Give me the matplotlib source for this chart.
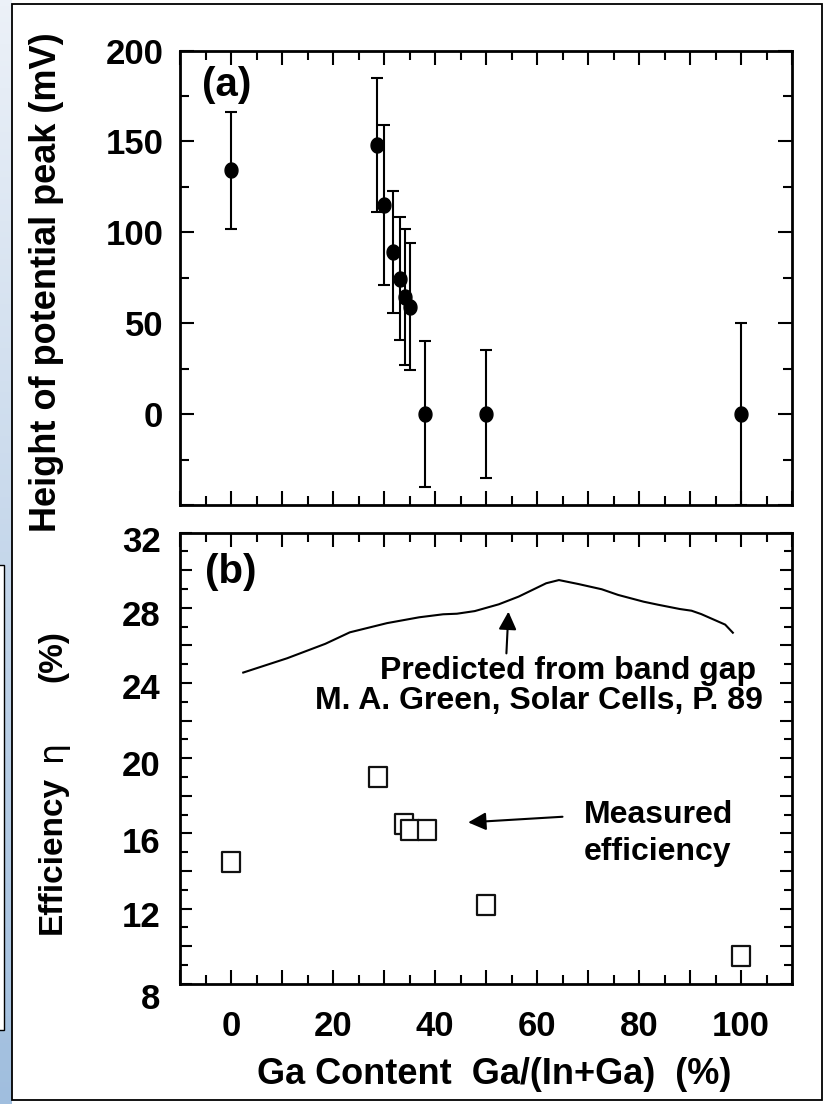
import numpy as np
import matplotlib
matplotlib.use('Agg')
import matplotlib.pyplot as plt
from matplotlib.path import Path
from matplotlib.ticker import MultipleLocator, FuncFormatter
from matplotlib.patches import Rectangle
from matplotlib.transforms import ScaledTranslation

# ---------------- data ----------------
ga_peak = [0, 28.6, 30.0, 31.7, 33.1, 34.1, 35.1, 38.1, 50, 100]
peak_mv = [134, 148, 115, 89, 74.5, 64.5, 59, 0, 0, 0]
peak_err = [32, 37, 44, 33.5, 34, 37.5, 35, 40, 35, 50]

ga_eff = [0, 28.8, 34.0, 35.1, 38.4, 50, 100]
eff_meas = [14.5, 19.0, 16.5, 16.2, 16.2, 12.2, 9.5]

ga_pred = [2.4, 11.0, 18.5, 23.3, 30.6, 36.9, 41.6, 44.3, 47.8, 52.5, 56.4,
           61.8, 64.3, 68.1, 72.7, 75.9, 80.9, 83.7, 88.0, 90.3, 92.2, 96.9, 98.4]
eff_pred = [24.55, 25.31, 26.08, 26.69, 27.18, 27.49, 27.65, 27.68, 27.82, 28.18, 28.59,
            29.30, 29.47, 29.26, 28.98, 28.68, 28.32, 28.16, 27.93, 27.84, 27.66, 27.10, 26.67]

xlabel_text = "Ga Content  Ga/(In+Ga)  (%)"
ylabel_top = "Height of potential peak (mV)"
# --------------------------------------

plt.rcParams['font.family'] = ['Liberation Sans', 'DejaVu Sans']
plt.rcParams['font.weight'] = 'bold'

W, H = 827, 1104
fig = plt.figure(figsize=(W / 100, H / 100), dpi=100)


def fx(x):
    return x / W


def fy(y):
    return 1 - y / H


# background strip on the left (slide background)
gax = fig.add_axes([0, 0, 12 / W, 1])
top_c = np.array([236, 241, 248]) / 255
bot_c = np.array([160, 190, 222]) / 255
t = np.linspace(0, 1, 200)[:, None, None]
grad = top_c[None, None, :] * (1 - t) + bot_c[None, None, :] * t
gax.imshow(grad, aspect='auto', extent=[0, 1, 0, 1])
gax.axis('off')

fig.patches.append(Rectangle((fx(-2), fy(1030)), 5.5 / W, (1030 - 565) / H,
                             transform=fig.transFigure, fc='white', ec='black', lw=1.0, zorder=2))
fig.patches.append(Rectangle((fx(12), fy(1100)), 810 / W, 1096 / H,
                             transform=fig.transFigure, fill=False, ec='black', lw=1.3, zorder=2))

L, R = 180, 792
ax1 = fig.add_axes([fx(L), fy(505), (R - L) / W, (505 - 50.5) / H])
ax2 = fig.add_axes([fx(L), fy(983.7), (R - L) / W, (983.7 - 532.5) / H])

# markers
tt = np.linspace(0, 2 * np.pi, 80)
ellipse = Path(np.column_stack([0.86 * np.cos(tt), np.sin(tt)]), closed=True)
rect = Path([(-0.45, -0.5), (0.45, -0.5), (0.45, 0.5), (-0.45, 0.5), (-0.45, -0.5)], closed=True)

# ---- panel (a)
ax1.errorbar(ga_peak, peak_mv, yerr=peak_err, fmt='none', ecolor='black',
             elinewidth=1.5, capsize=4.6, capthick=1.5)
ax1.plot(ga_peak, peak_mv, linestyle='none', marker=ellipse, ms=10.8,
         color='black', mec='black')
ax1.set_xlim(-10, 110)
ax1.set_ylim(-50, 200)

# ---- panel (b)
ax2.plot(ga_pred, eff_pred, color='black', lw=1.5)
ax2.plot(ga_eff, eff_meas, linestyle='none', marker=rect, ms=15, mfc='white',
         mec='#111111', mew=1.6)
ax2.set_xlim(-10, 110)
ax2.set_ylim(8, 32)

for ax in (ax1, ax2):
    for s in ax.spines.values():
        s.set_linewidth(2.0)
    ax.tick_params(which='both', direction='in', top=True, right=True, width=1.5,
                   labelsize=25, colors='black')
    ax.tick_params(which='major', length=10)
    ax.tick_params(which='minor', length=6.5)
    ax.xaxis.set_major_locator(MultipleLocator(10))
    ax.xaxis.set_minor_locator(MultipleLocator(5))

ax1.yaxis.set_major_locator(MultipleLocator(50))
ax1.yaxis.set_minor_locator(MultipleLocator(25))
ax1.yaxis.set_major_formatter(FuncFormatter(lambda v, p: '' if v < 0 else f'{int(round(v))}'))
ax1.tick_params(axis='x', labelbottom=False)
ax1.tick_params(axis='y', pad=12)

ax2.yaxis.set_major_locator(MultipleLocator(2))
ax2.yaxis.set_minor_locator(MultipleLocator(1))
ax2.yaxis.set_major_formatter(FuncFormatter(lambda v, p: f'{int(round(v))}' if int(round(v)) % 4 == 0 else ''))
ax2.xaxis.set_major_formatter(FuncFormatter(lambda v, p: f'{int(round(v))}' if int(round(v)) % 20 == 0 and v >= 0 else ''))
ax2.tick_params(axis='y', pad=14, which='major', length=8.6)
ax2.tick_params(axis='y', which='minor', length=5.8)
ax2.tick_params(axis='x', pad=19)

# panel letters
fig.text(fx(202), fy(85.5), '(a)', fontsize=29, ha='left', va='center')
fig.text(fx(205), fy(572), '(b)', fontsize=29, ha='left', va='center')

# annotations
fig.text(fx(380), fy(679), 'Predicted from band gap', fontsize=23, ha='left', va='baseline')
fig.text(fx(315), fy(709), 'M. A. Green, Solar Cells, P. 89', fontsize=23, ha='left', va='baseline')
fig.text(fx(584), fy(823), 'Measured', fontsize=23, ha='left', va='baseline')
fig.text(fx(584), fy(860), 'efficiency', fontsize=23, ha='left', va='baseline')

arrow_kw = dict(arrowstyle='-|>', mutation_scale=27, lw=1.5, color='black',
                shrinkA=0, shrinkB=0)
ax2.annotate('', xy=(54.4, 27.79), xytext=(54.0, 25.57), arrowprops=arrow_kw)
ax2.annotate('', xy=(46.5, 16.58), xytext=(65.0, 16.88), arrowprops=arrow_kw)

# axis labels
fig.text(fx(494), fy(1084), xlabel_text, fontsize=26, ha='center', va='baseline')
fig.text(fx(56), fy(282), ylabel_top, fontsize=26, rotation=90,
         rotation_mode='anchor', ha='center', va='baseline')
fig.text(fx(61), fy(855), 'Efficiency', fontsize=24, rotation=90,
         rotation_mode='anchor', ha='center', va='baseline')
fig.text(fx(61), fy(750), 'η', fontsize=24, rotation=90, fontweight='normal',
         family=['DejaVu Sans'], rotation_mode='anchor', ha='center', va='baseline')
fig.text(fx(61), fy(656), '(%)', fontsize=24, rotation=90,
         rotation_mode='anchor', ha='center', va='baseline')

# the reference's y tick labels of panel (b) sit a little below their ticks
fig.canvas.draw()
label_shift_px = {32: 6, 28: 5, 24: 3, 20: 5, 16: 7, 12: 5, 8: 12}
for tick, loc in zip(ax2.yaxis.get_major_ticks(), ax2.yaxis.get_majorticklocs()):
    shift = label_shift_px.get(int(round(loc)), 0)
    off = ScaledTranslation(0, -shift / 100, fig.dpi_scale_trans)
    tick.label1.set_transform(tick.label1.get_transform() + off)

fig.savefig('out.png', dpi=100)
